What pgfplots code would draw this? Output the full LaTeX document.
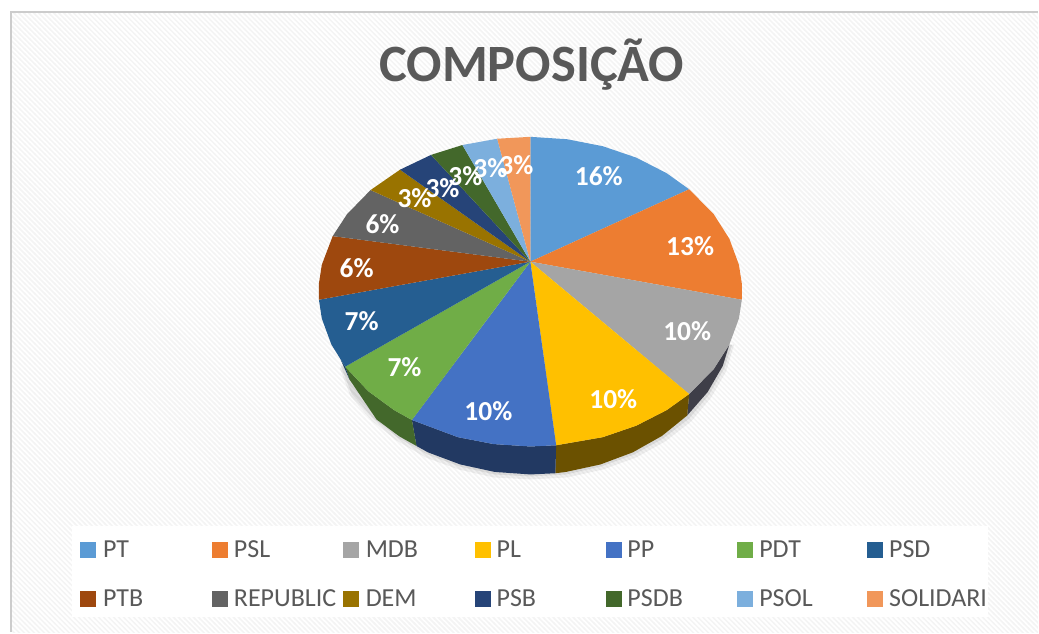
\documentclass[border=0pt]{standalone}
\usepackage{pgfplots}
\pgfplotsset{compat=1.18}
\usepackage{fontspec}
\setmainfont{Carlito}
\usetikzlibrary{patterns}
\pgfdeclarepatternformonly{hatch}{\pgfqpoint{-1pt}{-1pt}}{\pgfqpoint{6pt}{6pt}}{\pgfqpoint{5pt}{5pt}}{\pgfsetlinewidth{1.5pt}\pgfpathmoveto{\pgfqpoint{-1pt}{6pt}}\pgfpathlineto{\pgfqpoint{6pt}{-1pt}}\pgfusepath{stroke}}
\definecolor{cPT}{HTML}{5B9BD5}
\definecolor{cPSL}{HTML}{ED7D31}
\definecolor{cMDB}{HTML}{A5A5A5}
\definecolor{cPL}{HTML}{FFC000}
\definecolor{cPP}{HTML}{4472C4}
\definecolor{cPDT}{HTML}{70AD47}
\definecolor{cPSD}{HTML}{255E91}
\definecolor{cPTB}{HTML}{9E480E}
\definecolor{cREP}{HTML}{636363}
\definecolor{cDEM}{HTML}{997300}
\definecolor{cPSB}{HTML}{264478}
\definecolor{cPSDB}{HTML}{43682B}
\definecolor{cPSOL}{HTML}{7CAFDD}
\definecolor{cSOL}{HTML}{F1975A}
\definecolor{txt}{HTML}{595959}
\tikzset{
  lab/.style={font=\fontsize{27.5}{27.5}\selectfont\bfseries, text=white, inner sep=0pt},
  leg/.style={font=\fontsize{26}{26}\selectfont, text=txt, anchor=base west, inner sep=0pt},
  sq/.style={only marks, mark=square*, mark size=7.5pt, mark options={fill=#1, draw=#1}},
}
\begin{document}
\begin{tikzpicture}
\begin{axis}[
  scale only axis, width=1039pt, height=633pt,
  xmin=0, xmax=1039, ymin=0, ymax=633, y dir=reverse,
  hide axis, clip=false,
  every axis plot/.append style={draw=none},
]
% page and frame
\addplot[fill=white] coordinates {(0,0)(1039,0)(1039,633)(0,633)};
\addplot[pattern=hatch, pattern color=black!4.5] coordinates {(11,12)(1039,12)(1039,633)(11,633)};
\addplot[draw=black!20, line width=2.5pt, fill=none] coordinates {(11,633)(11,12)(1039,12)};
% legend panel
\addplot[fill=white] coordinates {(72,527)(989,527)(989,618)(72,618)};
% soft shadow
\addplot[fill=black, opacity=.06] coordinates {(735,345)(727,372)(712,398)(692,422)(666,442)(637,458)(604,470)(568,478)(531,480)(494,478)(459,470)(426,458)(397,441)(372,421)(351,397)(340,368)};
\addplot[fill=black, opacity=.08] coordinates {(733,345)(725,369)(710,395)(690,419)(664,439)(635,455)(602,467)(567,475)(531,477)(495,475)(460,467)(428,455)(398,438)(373,418)(352,394)(341,366)};
% side walls
\addplot[fill={rgb,255:red,62;green,62;blue,72}] coordinates {(730.2,345)(714.6,369.5)(690,394.5)(688,416)(708.5,392.5)(723.6,366.4)};
\addplot[fill=cPL!42!black] coordinates {(690,394.5)(667.3,410.7)(637,426.2)(603.5,437.7)(556.8,445.8)(556,473.8)(566.6,472.5)(601.1,465)(633.5,452.9)(662.8,436.4)(688,416)};
\addplot[fill=cPP!50!black] coordinates {(556.8,445.8)(531,447)(494.2,444.6)(458.5,437.7)(412.4,420.5)(417,446.5)(428.5,452.9)(460.9,465)(495.4,472.5)(531,475)(556,473.8)};
\addplot[fill=cPDT!60!black] coordinates {(412.4,420.5)(394.7,410.7)(368.6,391.6)(345.6,367.1)(350,380)(377,420)(400,437)(417,446.5)};
\addplot[fill=cPSD!65!black] coordinates {(341,360)(345.6,367.1)(350,380)};
% top wedges
\addplot[fill=cPT] coordinates {(531,262)(531,137)(567.8,139.4)(603.5,146.4)(637,157.8)(667.3,173.3)(690,189.5)};
\addplot[fill=cPSL] coordinates {(531,262)(690,189.5)(714.6,214.5)(730.2,239)(739.8,265.1)(742.7,283.9)(742.7,300.1)};
\addplot[fill=cMDB] coordinates {(531,262)(742.7,300.1)(739.8,318.9)(730.2,345)(714.6,369.5)(690,394.5)};
\addplot[fill=cPL] coordinates {(531,262)(690,394.5)(667.3,410.7)(637,426.2)(603.5,437.7)(556.8,445.8)};
\addplot[fill=cPP] coordinates {(531,262)(556.8,445.8)(531,447)(494.2,444.6)(458.5,437.7)(412.4,420.5)};
\addplot[fill=cPDT] coordinates {(531,262)(412.4,420.5)(394.7,410.7)(368.6,391.6)(345.6,367.1)};
\addplot[fill=cPSD] coordinates {(531,262)(345.6,367.1)(331.8,345)(322.2,318.9)(319.3,300.1)};
\addplot[fill=cPTB] coordinates {(531,262)(319.3,300.1)(319.3,283.9)(322.2,265.1)(333.1,236.4)};
\addplot[fill=cREP] coordinates {(531,262)(333.1,236.4)(347.4,214.5)(371,190.3)};
\addplot[fill=cDEM] coordinates {(531,262)(371,190.3)(400.5,169.9)};
\addplot[fill=cPSB] coordinates {(531,262)(400.5,169.9)(431.5,155.1)};
\addplot[fill=cPSDB] coordinates {(531,262)(431.5,155.1)(463,145.2)};
\addplot[fill=cPSOL] coordinates {(531,262)(463,145.2)(497.8,138.9)};
\addplot[fill=cSOL] coordinates {(531,262)(497.8,138.9)(531,137)};
% data labels
\node[lab] at (axis cs:599.5,176) {16\%};
\node[lab] at (axis cs:691,246) {13\%};
\node[lab] at (axis cs:688,332) {10\%};
\node[lab] at (axis cs:614,400) {10\%};
\node[lab] at (axis cs:489,412) {10\%};
\node[lab] at (axis cs:405,368) {7\%};
\node[lab] at (axis cs:362,322) {7\%};
\node[lab] at (axis cs:357,268) {6\%};
\node[lab] at (axis cs:383,224) {6\%};
\node[lab] at (axis cs:415,198) {3\%};
\node[lab] at (axis cs:443,188) {3\%};
\node[lab] at (axis cs:466,176) {3\%};
\node[lab] at (axis cs:491,168) {3\%};
\node[lab] at (axis cs:517,165) {3\%};
% title
\node[font=\fontsize{52.5}{52.5}\selectfont\bfseries, text=txt, anchor=base, inner sep=0pt] at (axis cs:532.5,82) {COMPOSIÇÃO};
% legend
\addplot[sq=cPT] coordinates {(88,550.5)};
\addplot[sq=cPSL] coordinates {(220,550.5)};
\addplot[sq=cMDB] coordinates {(351,550.5)};
\addplot[sq=cPL] coordinates {(483,550.5)};
\addplot[sq=cPP] coordinates {(614,550.5)};
\addplot[sq=cPDT] coordinates {(746,550.5)};
\addplot[sq=cPSD] coordinates {(876,550.5)};
\addplot[sq=cPTB] coordinates {(88,599.5)};
\addplot[sq=cREP] coordinates {(220,599.5)};
\addplot[sq=cDEM] coordinates {(351,599.5)};
\addplot[sq=cPSB] coordinates {(483,599.5)};
\addplot[sq=cPSDB] coordinates {(614,599.5)};
\addplot[sq=cPSOL] coordinates {(746,599.5)};
\addplot[sq=cSOL] coordinates {(876,599.5)};
\node[leg] at (axis cs:103,558) {PT};
\node[leg] at (axis cs:234,558) {PSL};
\node[leg] at (axis cs:366,558) {MDB};
\node[leg] at (axis cs:497,558) {PL};
\node[leg] at (axis cs:628,558) {PP};
\node[leg] at (axis cs:760,558) {PDT};
\node[leg] at (axis cs:890,558) {PSD};
\node[leg] at (axis cs:103,607) {PTB};
\node[leg] at (axis cs:234,607) {REPUBLIC};
\node[leg] at (axis cs:366,607) {DEM};
\node[leg] at (axis cs:497,607) {PSB};
\node[leg] at (axis cs:628,607) {PSDB};
\node[leg] at (axis cs:760,607) {PSOL};
\node[leg] at (axis cs:890,607) {SOLIDARI};
\end{axis}
\end{tikzpicture}
\end{document}
